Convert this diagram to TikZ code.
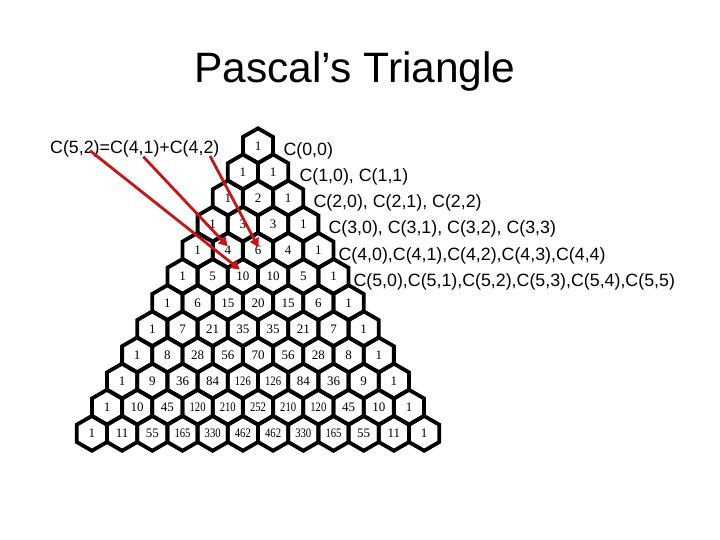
\documentclass[tikz,border=0pt]{standalone}
\usepackage{fontspec}
\usepackage{graphicx}
\setmainfont{Liberation Sans}
\newfontfamily\numfont{Liberation Serif}
\usetikzlibrary{arrows.meta,calc}
\definecolor{arrowred}{RGB}{200,20,20}
\begin{document}
\begin{tikzpicture}[x=1pt,y=-1pt,
  hexline/.style={line width=3.8pt, line join=miter, black},
  hexnum/.style={font=\numfont\fontsize{13}{13}\selectfont, inner sep=0pt, anchor=base},
  titletext/.style={font=\fontsize{42.5}{50}\selectfont, inner sep=0pt},
  lbltext/.style={font=\fontsize{17.8}{20}\selectfont, inner sep=0pt, anchor=base west},
  redarrow/.style={draw=arrowred, line width=2.8pt, -{Triangle[length=9pt,width=9.5pt]}, fill=arrowred}
]
\useasboundingbox (0,0) rectangle (720,540);

% title
\node[titletext, anchor=base] (title) at (355,83) {Pascal’s Triangle};

% hexagons with numbers
\foreach \rowlist [count=\r from 0] in {{1},{1,1},{1,2,1},{1,3,3,1},{1,4,6,4,1},{1,5,10,10,5,1},{1,6,15,20,15,6,1},{1,7,21,35,35,21,7,1},{1,8,28,56,70,56,28,8,1},{1,9,36,84,126,126,84,36,9,1},{1,10,45,120,210,252,210,120,45,10,1},{1,11,55,165,330,462,462,330,165,55,11,1}}{
  \foreach \v [count=\c from 0] in \rowlist {
    \pgfmathsetmacro{\hx}{258+30.2*(\c-\r/2)}
    \pgfmathsetmacro{\hy}{145.7+26.15*\r}
    \draw[hexline] (\hx,\hy) +(90:17.4) -- +(150:17.4) -- +(210:17.4) -- +(270:17.4) -- +(330:17.4) -- +(30:17.4) -- cycle;
    \node[hexnum] (h-\r-\c) at (\hx,\hy+4.4) {\ifnum\v>99 \scalebox{0.82}[1]{\v}\else\v\fi};
  }
}

% left label
\node[lbltext] (lhs) at (50,153.5) {C(5,2)=C(4,1)+C(4,2)};

% right labels
\node[lbltext] (r0) at (283.3,155.5) {C(0,0)};
\node[lbltext] (r1) at (299.3,181.6) {C(1,0), C(1,1)};
\node[lbltext] (r2) at (313.3,207.8) {C(2,0), C(2,1), C(2,2)};
\node[lbltext] (r3) at (328.3,233.9) {C(3,0), C(3,1), C(3,2), C(3,3)};
\node[lbltext] (r4) at (338.3,260.1) {C(4,0),C(4,1),C(4,2),C(4,3),C(4,4)};
\node[lbltext] (r5) at (353.3,286.2) {C(5,0),C(5,1),C(5,2),C(5,3),C(5,4),C(5,5)};

% arrows
\coordinate (s1) at (90,150.7);
\coordinate (s2) at (143.3,156.7);
\coordinate (s3) at (210,156);
\draw[redarrow] (s1) -- ($(h-5-2)+(-3,-7)$);
\draw[redarrow] (s2) -- ($(h-4-1)+(0,-4)$);
\draw[redarrow] (s3) -- ($(h-4-2)+(0.5,-3)$);
\end{tikzpicture}
\end{document}
